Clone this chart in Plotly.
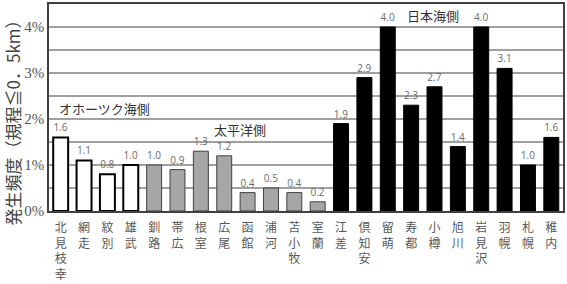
import plotly.graph_objects as go

stations = ["北見枝幸", "網走", "紋別", "雄武", "釧路", "帯広", "根室", "広尾", "函館", "浦河",
            "苫小牧", "室蘭", "江差", "倶知安", "留萌", "寿都", "小樽", "旭川", "岩見沢", "羽幌",
            "札幌", "稚内"]
values = [1.6, 1.1, 0.8, 1.0, 1.0, 0.9, 1.3, 1.2, 0.4, 0.5,
          0.4, 0.2, 1.9, 2.9, 4.0, 2.3, 2.7, 1.4, 4.0, 3.1,
          1.0, 1.6]
groups = ["okhotsk"] * 4 + ["pacific"] * 8 + ["japansea"] * 10
group_labels = {"okhotsk": "オホーツク海側", "pacific": "太平洋側", "japansea": "日本海側"}
y_tickvals = [0, 0.5, 1, 1.5, 2, 2.5, 3, 3.5, 4, 4.5]
y_ticktext = ["0%", "", "1%", "", "2%", "", "3%", "", "4%", ""]
y_title = "発生頻度（規程≦0．5km）"

fill = {"okhotsk": "white", "pacific": "#a6a6a6", "japansea": "black"}
outline = {"okhotsk": "black", "pacific": "#404040", "japansea": "black"}
owidth = {"okhotsk": 2, "pacific": 1, "japansea": 1}

xlabels = ["<br>".join(list(s)) for s in stations]

fig = go.Figure()
fig.add_trace(go.Bar(
    x=xlabels, y=values,
    marker=dict(color=[fill[g] for g in groups],
                line=dict(color=[outline[g] for g in groups], width=[owidth[g] for g in groups])),
    text=[f"{v:.1f}" for v in values], textposition="outside",
    textfont=dict(family="Open Sans, Liberation Sans, sans-serif", size=10, color="#6a6a6a"),
    constraintext="none", cliponaxis=False, width=0.64,
))

jp = "Liberation Serif, Noto Sans CJK JP"
fig.update_layout(
    width=567, height=284,
    margin=dict(l=49, r=4, t=2, b=55),
    plot_bgcolor="white", paper_bgcolor="white",
    showlegend=False,
    xaxis=dict(showgrid=False, showline=True, linecolor="#404040", linewidth=1.5, mirror=True,
               tickfont=dict(family="Noto Sans CJK JP", size=12, color="#595959"), ticks="",
               ticklabelstandoff=5),
    yaxis=dict(range=[0, 4.5], tickvals=y_tickvals, ticktext=y_ticktext,
               showgrid=True, gridcolor="#a0a0a0", gridwidth=1.5,
               showline=True, linecolor="#404040", linewidth=1.5, mirror=True,
               tickfont=dict(family=jp, size=15, color="#555555"), ticks="", zeroline=False),
)

fig.add_annotation(text=y_title, textangle=-90, xref="paper", yref="paper",
                   x=-0.071, y=0.445, xanchor="center", yanchor="middle", showarrow=False,
                   font=dict(family="Noto Sans CJK JP", size=17, color="#444444"))
fig.add_annotation(text=group_labels["okhotsk"], x=-0.16, y=2.22, xanchor="left", yanchor="middle",
                   showarrow=False, font=dict(family="Noto Sans CJK JP", size=13, color="#333333"))
fig.add_annotation(text=group_labels["pacific"], x=7.68, y=1.78, xanchor="center", yanchor="middle",
                   showarrow=False, font=dict(family="Noto Sans CJK JP", size=13, color="#333333"))
fig.add_annotation(text=group_labels["japansea"], x=15.94, y=4.24, xanchor="center", yanchor="middle",
                   showarrow=False, font=dict(family="Noto Sans CJK JP", size=13, color="#333333"))

fig.write_html("out.html")
